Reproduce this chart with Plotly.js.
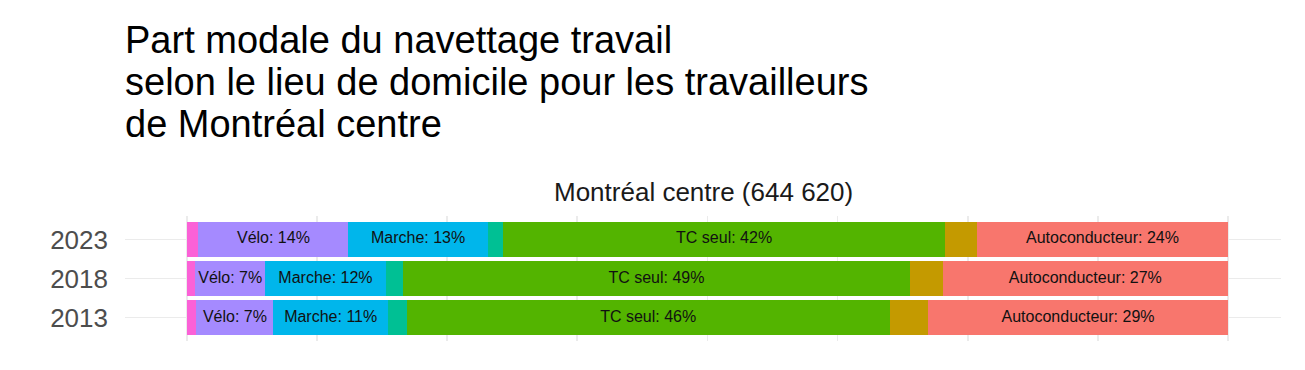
<!DOCTYPE html>
<html>
<head>
<meta charset="utf-8">
<script src="https://cdn.plot.ly/plotly-3.0.1.min.js"></script>
<style>html,body{margin:0;padding:0;background:#fff;}#chart{width:1305px;height:370px;}</style>
</head>
<body>
<div id="chart"></div>
<script>
// Data (percent share of commuting mode), stacked left to right
const years = ["2013", "2018", "2023"];
const modes = ["Autre", "Vélo", "Marche", "TC + auto", "TC seul", "Autopassager", "Autoconducteur"];
const colors = ["#FB61D7", "#A58AFF", "#00B6EB", "#00C094", "#53B400", "#C49A00", "#F8766D"];
const autre          = [0.9, 0.8, 1.1];
const velo           = [7.4, 6.7, 14.4];
const marche         = [11.0, 11.6, 13.4];
const tcAuto         = [1.8, 1.6, 1.5];
const tcSeul         = [46.4, 48.8, 42.4];
const autopassager   = [3.7, 3.1, 3.1];
const autoconducteur = [28.8, 27.4, 24.1];
const labeledModes = ["Vélo", "Marche", "TC seul", "Autoconducteur"];
const title = ["Part modale du navettage travail", "selon le lieu de domicile pour les travailleurs", "de Montréal centre"];
const panelTitle = "Montréal centre (644 620)";

const series = [autre, velo, marche, tcAuto, tcSeul, autopassager, autoconducteur];

const traces = [];
series.forEach((vals, i) => {
  traces.push({
    type: "bar", orientation: "h",
    y: years, x: vals, name: modes[i],
    marker: {color: colors[i], line: {width: 0}},
    width: 0.9, hoverinfo: "x+name", showlegend: false
  });
});

// labels at segment midpoints
const lx = [], ly = [], lt = [];
years.forEach((yr, j) => {
  let cum = 0;
  series.forEach((vals, i) => {
    const v = vals[j];
    if (labeledModes.includes(modes[i])) {
      lx.push(cum + v / 2); ly.push(yr);
      lt.push(modes[i] + ": " + Math.round(v) + "%");
    }
    cum += v;
  });
});
traces.push({
  type: "scatter", mode: "text", x: lx, y: ly, text: lt,
  textposition: "middle center",
  textfont: {family: "Liberation Sans, Arial, sans-serif", size: 16, color: "#111111"},
  hoverinfo: "skip", showlegend: false
});

// margins so that plot area matches the panel
const L = 125, R = 24, T = 216, B = 29, W = 1305, H = 370;
const ph = H - T - B, pw = W - L - R;
function py(p) { return (H - B - p) / ph; }
function px(p) { return (p - L) / pw; }

const annotations = [];
const titleCenters = [40, 82, 123.5];
title.forEach((t, i) => {
  annotations.push({
    text: t, xref: "paper", yref: "paper", x: px(123), y: py(titleCenters[i]),
    xanchor: "left", yanchor: "middle", showarrow: false,
    font: {family: "Liberation Sans, Arial, sans-serif", size: 38, color: "#000000"}
  });
});
annotations.push({
  text: panelTitle, xref: "paper", yref: "paper", x: 0.5, y: py(192),
  xanchor: "center", yanchor: "middle", showarrow: false,
  font: {family: "Liberation Sans, Arial, sans-serif", size: 26, color: "#1A1A1A"}
});

const layout = {
  width: W, height: H,
  margin: {l: L, r: R, t: T, b: B, pad: 0},
  paper_bgcolor: "#ffffff", plot_bgcolor: "#ffffff",
  barmode: "stack", bargap: 0.1,
  showlegend: false,
  xaxis: {
    range: [-5.96, 105.1], dtick: 12.5, tick0: 0,
    showticklabels: false, ticks: "", zeroline: false, showline: false,
    showgrid: true, gridcolor: "#EBEBEB", gridwidth: 1.8, fixedrange: true
  },
  yaxis: {
    type: "category", categoryorder: "array", categoryarray: years,
    range: [-0.6, 2.6], ticks: "", ticklabelstandoff: 16,
    showgrid: true, gridcolor: "#EBEBEB", gridwidth: 1.8,
    zeroline: false, showline: false,
    tickfont: {family: "Liberation Sans, Arial, sans-serif", size: 26, color: "#4D4D4D"},
    fixedrange: true
  },
  annotations: annotations
};

Plotly.newPlot("chart", traces, layout, {displayModeBar: false, staticPlot: true});
</script>
</body>
</html>
